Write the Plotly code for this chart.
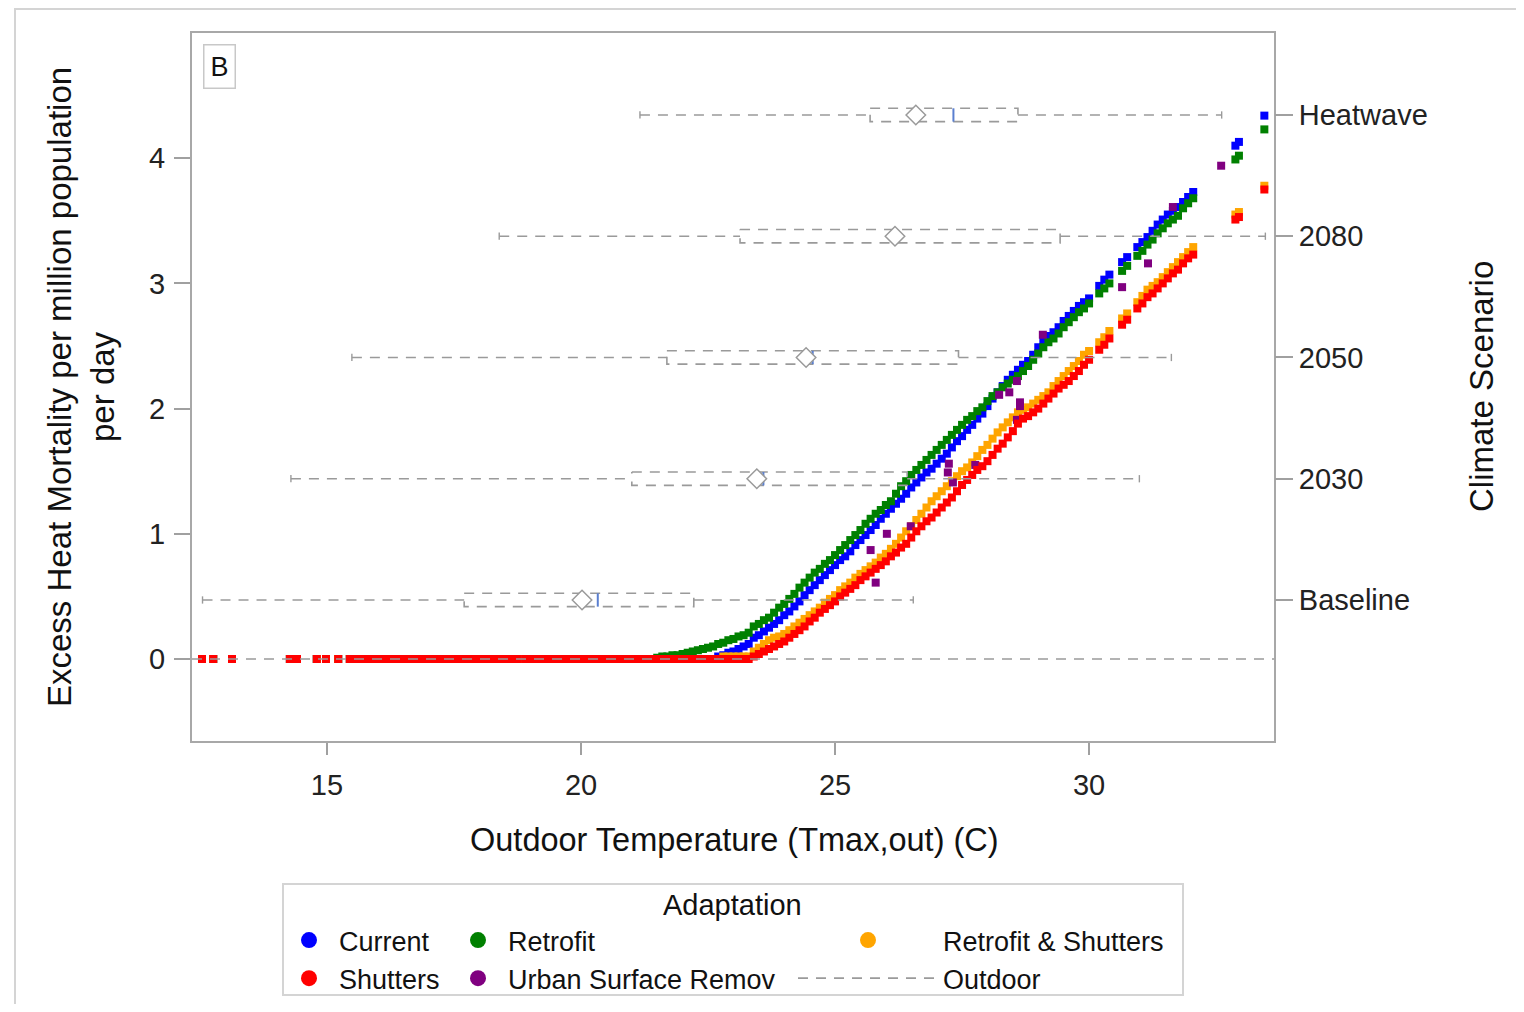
import plotly.graph_objects as go

# ---------------- data ----------------
# Outdoor Tmax (C) of days whose excess mortality is 0 for every adaptation
zero_days = [12.54, 12.76, 13.13, 14.27, 14.41, 14.80, 14.98, 15.22,
             15.45, 15.55, 15.65, 15.75, 15.85, 15.95, 16.05, 16.15, 16.25, 16.35,
             16.45, 16.55, 16.65, 16.75, 16.85,
             16.95, 17.05, 17.15, 17.25, 17.35, 17.45, 17.55, 17.65, 17.75, 17.85,
             17.95, 18.05, 18.15, 18.25, 18.35, 18.45, 18.55, 18.65, 18.75,
             18.90, 19.00, 19.10, 19.20, 19.30, 19.40, 19.50, 19.60, 19.70, 19.80,
             19.90, 20.00, 20.10, 20.20, 20.30, 20.40, 20.50, 20.60, 20.70, 20.80,
             20.90, 21.00, 21.10, 21.20, 21.30, 21.40]

# Outdoor Tmax (C) of the warmer days
rise_temps = [21.5, 21.6, 21.7, 21.8, 21.9, 22.0, 22.1, 22.2, 22.3, 22.4,
              22.5, 22.6, 22.7, 22.8, 22.9, 23.0, 23.1, 23.2, 23.3,
              23.4, 23.5, 23.6, 23.7, 23.8, 23.9, 24.0, 24.1, 24.2, 24.3,
              24.4, 24.5, 24.6, 24.7, 24.8, 24.9, 25.0, 25.1, 25.2, 25.3,
              25.4, 25.5, 25.6, 25.7, 25.8, 25.9, 26.0, 26.1, 26.2, 26.3,
              26.4, 26.5, 26.6, 26.7, 26.8, 26.9, 27.0, 27.1, 27.2, 27.3,
              27.4, 27.5, 27.6, 27.7, 27.8, 27.9, 28.0, 28.1, 28.2, 28.3,
              28.4, 28.5, 28.6, 28.7, 28.8, 28.9, 29.0, 29.1, 29.2, 29.3,
              29.4, 29.5, 29.6, 29.7, 29.8, 29.9, 30.0,
              30.2, 30.3, 30.4,
              30.65, 30.75,
              30.95, 31.05,
              31.15, 31.25, 31.35, 31.45, 31.55, 31.65, 31.75, 31.85, 31.95, 32.05,
              32.88, 32.95, 33.45]

current = [0, 0, 0, 0, 0, 0, 0, 0, 0, 0, 0, 0, 0.02, 0.03, 0.05, 0.06, 0.08, 0.10, 0.12,
           0.17, 0.19, 0.22, 0.25, 0.28, 0.31, 0.35, 0.38, 0.42, 0.46,
           0.51, 0.55, 0.59, 0.63, 0.67, 0.71, 0.75, 0.79, 0.82, 0.86,
           0.91, 0.95, 0.99, 1.03, 1.07, 1.12, 1.16, 1.20, 1.24, 1.28,
           1.32, 1.37, 1.41, 1.45, 1.49, 1.52, 1.56, 1.60, 1.64, 1.69,
           1.74, 1.78, 1.83, 1.87, 1.92, 1.96, 2.02, 2.08, 2.13, 2.18,
           2.23, 2.27, 2.31, 2.35, 2.38, 2.43, 2.49, 2.54, 2.58, 2.61,
           2.65, 2.70, 2.74, 2.78, 2.82, 2.85, 2.88,
           2.98, 3.03, 3.07,
           3.17, 3.21,
           3.29, 3.33,
           3.37, 3.42, 3.47, 3.51, 3.55, 3.58, 3.61, 3.65, 3.69, 3.73,
           4.10, 4.13, 4.34]

retrofit = [0.01, 0.02, 0.02, 0.03, 0.03, 0.04, 0.05, 0.06, 0.07, 0.08,
            0.09, 0.10, 0.12, 0.13, 0.15, 0.16, 0.18, 0.19, 0.21,
            0.26, 0.28, 0.31, 0.33, 0.37, 0.41, 0.44, 0.48, 0.52, 0.57,
            0.61, 0.65, 0.69, 0.72, 0.76, 0.79, 0.83, 0.87, 0.91, 0.95,
            0.99, 1.03, 1.08, 1.12, 1.16, 1.19, 1.23, 1.26, 1.32, 1.38,
            1.42, 1.47, 1.51, 1.55, 1.59, 1.63, 1.67, 1.71, 1.75, 1.79,
            1.83, 1.87, 1.91, 1.94, 1.98, 2.01, 2.06, 2.10, 2.13, 2.17,
            2.20, 2.23, 2.26, 2.30, 2.34, 2.39, 2.44, 2.49, 2.53, 2.56,
            2.60, 2.65, 2.69, 2.73, 2.77, 2.80, 2.84,
            2.92, 2.96, 3.00,
            3.10, 3.14,
            3.22, 3.26,
            3.31, 3.35, 3.40, 3.44, 3.48, 3.51, 3.54, 3.60, 3.64, 3.68,
            3.99, 4.02, 4.23]

retrofit_shutters = [0, 0, 0, 0, 0, 0, 0, 0, 0, 0, 0, 0, 0, 0.02, 0.02, 0.02, 0.02, 0.02, 0.02,
                     0.06, 0.09, 0.12, 0.15, 0.17, 0.18, 0.20, 0.23, 0.26, 0.29,
                     0.32, 0.35, 0.38, 0.41, 0.45, 0.48, 0.51, 0.55, 0.58, 0.61,
                     0.65, 0.68, 0.71, 0.74, 0.77, 0.81, 0.84, 0.88, 0.92, 0.97,
                     1.02, 1.06, 1.11, 1.16, 1.21, 1.26, 1.30, 1.34, 1.38, 1.42,
                     1.46, 1.50, 1.53, 1.57, 1.62, 1.67, 1.71, 1.76, 1.81, 1.85,
                     1.89, 1.93, 1.97, 1.99, 2.01, 2.04, 2.07, 2.10, 2.13, 2.18,
                     2.22, 2.26, 2.30, 2.34, 2.38, 2.43, 2.46,
                     2.53, 2.57, 2.62,
                     2.72, 2.76,
                     2.85, 2.90,
                     2.95, 2.98, 3.01, 3.05, 3.09, 3.13, 3.17, 3.21, 3.25, 3.29,
                     3.55, 3.57, 3.78]

shutters = [0, 0, 0, 0, 0, 0, 0, 0, 0, 0, 0, 0, 0, 0, 0, 0, 0, 0, 0,
            0.02, 0.04, 0.06, 0.08, 0.10, 0.12, 0.14, 0.17, 0.20, 0.23,
            0.26, 0.30, 0.33, 0.37, 0.40, 0.43, 0.46, 0.50, 0.53, 0.56,
            0.59, 0.63, 0.66, 0.69, 0.72, 0.75, 0.78, 0.82, 0.85, 0.89,
            0.92, 0.97, 1.02, 1.06, 1.10, 1.13, 1.17, 1.21, 1.25, 1.29,
            1.34, 1.39, 1.43, 1.47, 1.51, 1.54, 1.58, 1.63, 1.68, 1.72,
            1.77, 1.82, 1.88, 1.92, 1.94, 1.97, 2.00, 2.04, 2.08, 2.12,
            2.16, 2.19, 2.22, 2.26, 2.30, 2.35, 2.39,
            2.47, 2.51, 2.56,
            2.67, 2.71,
            2.80, 2.84,
            2.89, 2.92, 2.96, 3.00, 3.04, 3.08, 3.11, 3.16, 3.20, 3.23,
            3.51, 3.53, 3.75]

urban_temps = [21.12, 21.46, 22.88, 25.70, 25.80, 26.02, 26.49, 27.22, 27.24, 27.32,
               27.76, 28.23, 28.43, 28.58, 28.64, 28.64, 28.58, 29.09, 30.65, 31.16,
               31.65, 32.60]
urban = [0, 0, 0, 0.87, 0.61, 1.00, 1.06, 1.49, 1.56, 1.41,
         1.55, 2.11, 2.13, 2.22, 2.05, 2.02, 1.91, 2.59, 2.97, 3.16,
         3.61, 3.94]

# Outdoor temperature distribution per climate scenario
scenarios = ["Baseline", "2030", "2050", "2080", "Heatwave"]
whisker_lo = [12.55, 14.29, 15.49, 18.39, 21.16]
q1 = [17.70, 21.00, 21.69, 23.13, 25.69]
median = [20.33, 23.59, 24.56, 26.22, 27.33]
mean = [20.02, 23.46, 24.43, 26.18, 26.59]
q3 = [22.22, 26.42, 27.43, 29.43, 28.60]
whisker_hi = [26.54, 30.99, 31.62, 33.47, 32.61]

x_ticks = [15, 20, 25, 30]
y_ticks = [0, 1, 2, 3, 4]

# ---------------- figure ----------------
FONT = "Liberation Sans, Arial, sans-serif"
GRAY = "#a0a0a0"
LINE_GRAY = "#9a9a9a"
DASH = "10px,8px"

fig = go.Figure()

series = [
    ("Current", current, "#0000ff"),
    ("Retrofit", retrofit, "#008000"),
    ("Retrofit & Shutters", retrofit_shutters, "#ffa500"),
]
for name, vals, col in series:
    fig.add_trace(go.Scatter(
        x=zero_days + rise_temps, y=[0 for _ in zero_days] + vals,
        mode="markers", name=name, showlegend=False,
        marker=dict(symbol="square", size=8, color=col, line=dict(width=0))))

fig.add_trace(go.Scatter(
    x=urban_temps, y=urban, mode="markers", name="Urban Surface Remov", showlegend=False,
    marker=dict(symbol="square", size=8, color="#800080", line=dict(width=0))))

fig.add_trace(go.Scatter(
    x=zero_days + rise_temps, y=[0 for _ in zero_days] + shutters,
    mode="markers", name="Shutters", showlegend=False,
    marker=dict(symbol="square", size=8, color="#ff0000", line=dict(width=0))))

# ---- boxes of outdoor temperature per scenario (secondary y axis) ----
HB = 0.055   # half box height (category units)
HC = 0.03    # half cap height
bx, by, wx, wy, cx, cy, mx, my = [], [], [], [], [], [], [], []
for i in range(len(scenarios)):
    bx += [q1[i], q3[i], q3[i], q1[i], q1[i], None]
    by += [i + HB, i + HB, i - HB, i - HB, i + HB, None]
    wx += [whisker_lo[i], q1[i], None, q3[i], whisker_hi[i], None]
    wy += [i, i, None, i, i, None]
    cx += [whisker_lo[i], whisker_lo[i], None, whisker_hi[i], whisker_hi[i], None]
    cy += [i - HC, i + HC, None, i - HC, i + HC, None]
    mx += [median[i], median[i], None]
    my += [i - HB, i + HB, None]

fig.add_trace(go.Scatter(x=wx, y=wy, yaxis="y2", mode="lines", name="Outdoor",
                         line=dict(color=LINE_GRAY, width=1.6, dash=DASH),
                         showlegend=True, legend="legend3", legendrank=2))
fig.add_trace(go.Scatter(x=bx, y=by, yaxis="y2", mode="lines", showlegend=False,
                         line=dict(color=LINE_GRAY, width=1.6, dash=DASH)))
fig.add_trace(go.Scatter(x=cx, y=cy, yaxis="y2", mode="lines", showlegend=False,
                         line=dict(color=LINE_GRAY, width=1.4)))
fig.add_trace(go.Scatter(x=mx, y=my, yaxis="y2", mode="lines", showlegend=False,
                         line=dict(color="#5a7fd0", width=2)))
fig.add_trace(go.Scatter(x=mean, y=list(range(len(scenarios))), yaxis="y2", mode="markers",
                         showlegend=False,
                         marker=dict(symbol="diamond", size=15, color="white",
                                     line=dict(color=LINE_GRAY, width=1.5))))

# ---- legend-only entries (circles) ----
legend_entries = [
    ("Current", "#0000ff", "legend"), ("Shutters", "#ff0000", "legend"),
    ("Retrofit", "#008000", "legend2"), ("Urban Surface Remov", "#800080", "legend2"),
    ("Retrofit & Shutters", "#ffa500", "legend3"),
]
for name, col, lg in legend_entries:
    fig.add_trace(go.Scatter(x=[None], y=[None], mode="markers", name=name, legend=lg,
                             legendrank=1,
                             marker=dict(symbol="circle", size=18, color=col)))

# page body has an 8px margin: figure is placed at (8, 8) in the window
OFF = 8
W, H = 1508, 996
L, T = 184, 25
PW, PH = 1082, 708
R, B = W - L - PW, H - T - PH


def px(xp):
    """window x pixel -> paper coordinate"""
    return (xp - OFF - L) / PW


def py(yp):
    """window y pixel -> paper coordinate"""
    return (T + PH - (yp - OFF)) / PH


axis_font = dict(family=FONT, size=29, color="#222222")
leg_common = dict(font=dict(family=FONT, size=27, color="#111111"), bgcolor="rgba(0,0,0,0)",
                  borderwidth=0, xanchor="left", yanchor="top", tracegroupgap=0)

fig.update_layout(
    width=W, height=H,
    margin=dict(l=L, r=R, t=T, b=B, autoexpand=False),
    paper_bgcolor="white", plot_bgcolor="white",
    font=dict(family=FONT),
    xaxis=dict(range=[12.343, 33.64], tickvals=x_ticks, ticks="outside", ticklen=12,
               tickcolor=GRAY, tickwidth=1.5, showgrid=False, zeroline=False,
               showline=True, linecolor="#a8a8a8", linewidth=2, mirror=True,
               tickfont=axis_font, ticklabelstandoff=5),
    yaxis=dict(range=[-0.655, 5.0], tickvals=y_ticks, ticks="outside", ticklen=16,
               tickcolor=GRAY, tickwidth=1.5, showgrid=False, zeroline=False,
               showline=True, linecolor="#a8a8a8", linewidth=2, mirror=True,
               tickfont=axis_font, ticklabelstandoff=3),
    yaxis2=dict(range=[-1.163, 4.676], overlaying="y", side="right",
                tickvals=list(range(len(scenarios))), ticktext=scenarios,
                ticks="outside", ticklen=18, tickcolor=GRAY, tickwidth=1.5,
                showgrid=False, zeroline=False, showline=False, tickfont=axis_font),
    legend=dict(x=px(279), y=py(916), itemwidth=50, **leg_common),
    legend2=dict(x=px(448), y=py(916), itemwidth=50, **leg_common),
    legend3=dict(x=px(793), y=py(916), itemwidth=140, **leg_common),
    shapes=[
        dict(type="line", xref="paper", x0=0, x1=1, yref="y", y0=0, y1=0, layer="above",
             line=dict(color=LINE_GRAY, width=1.6, dash=DASH)),
        dict(type="rect", xref="paper", yref="paper", x0=px(283), x1=px(1183),
             y0=py(995), y1=py(884), line=dict(color="#d4d4d4", width=2)),
        dict(type="rect", xref="paper", yref="paper", x0=px(15), x1=px(1540),
             y0=py(1030), y1=py(9), line=dict(color="#d4d4d4", width=2)),
    ],
    annotations=[
        dict(text="Outdoor Temperature (Tmax,out) (C)", xref="paper", yref="paper",
             x=px(734), y=py(840), showarrow=False, xanchor="center", yanchor="middle",
             font=dict(family=FONT, size=32.5, color="#111111")),
        dict(text="Excess Heat Mortality per million population<br>per day",
             xref="paper", yref="paper", x=px(81), y=py(387), showarrow=False,
             textangle=-90, xanchor="center", yanchor="middle",
             font=dict(family=FONT, size=33, color="#111111")),
        dict(text="Climate Scenario", xref="paper", yref="paper", x=px(1481), y=py(387),
             showarrow=False, textangle=-90, xanchor="center", yanchor="middle",
             font=dict(family=FONT, size=33, color="#111111")),
        dict(text="Adaptation", xref="paper", yref="paper", x=px(732), y=py(905),
             showarrow=False, xanchor="center", yanchor="middle",
             font=dict(family=FONT, size=29, color="#111111")),
        dict(text="B", xref="paper", yref="paper", x=px(219), y=py(67),
             showarrow=False, xanchor="center", yanchor="middle",
             bgcolor="white", bordercolor="#c8c8c8", borderwidth=1.5, borderpad=6,
             font=dict(family=FONT, size=27, color="#111111")),
    ],
)

fig.write_html("out.html")
